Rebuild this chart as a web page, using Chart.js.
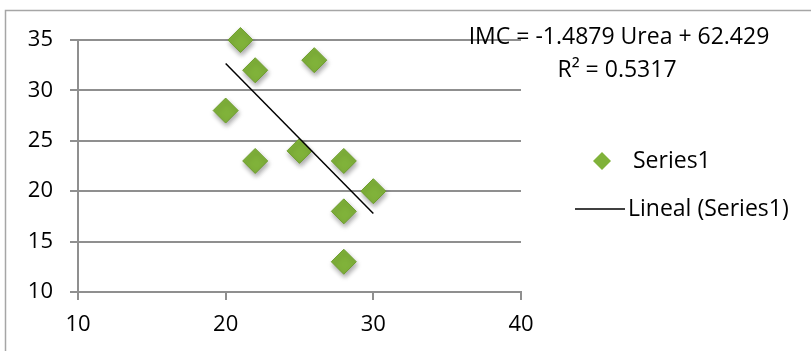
<!DOCTYPE html>
<html>
<head>
<meta charset="utf-8">
<script src="https://cdn.jsdelivr.net/npm/chart.js@4/dist/chart.umd.min.js"></script>
<style>
    html, body { margin: 0; padding: 0; background: #fff; }
</style>
</head>
<body>
<canvas id="chart" width="811" height="351"></canvas>
<script>
// datos
const ureaValues = [21, 22, 26, 20, 22, 25, 28, 30, 28, 28];
const imcValues = [35, 32, 33, 28, 23, 24, 23, 20, 18, 13];
const trendX = [20, 30];
const trendY = [32.67, 17.79];
const xTicks = [10, 20, 30, 40];
const yTicks = [10, 15, 20, 25, 30, 35];
const seriesLabel = 'Series1';
const trendLabel = 'Lineal (Series1)';
const equationText = 'IMC = -1.4879 Urea + 62.429';
const r2Text = 'R² = 0.5317';

const FONT = "'Open Sans', sans-serif";
const gridColor = '#8f8f8f';
const markerColor = '#80b23a';
const markerBorder = '#6e9e2e';

// sombra de los rombos
const shadowPlugin = {
    id: 'markerShadow',
    beforeDatasetDraw(chart, args) {
        if (args.index !== 1) return;
        const ctx = chart.ctx;
        ctx.save();
        ctx.shadowColor = 'rgba(0,0,0,0.35)';
        ctx.shadowBlur = 5;
        ctx.shadowOffsetX = 1;
        ctx.shadowOffsetY = 3;
    },
    afterDatasetDraw(chart, args) {
        if (args.index !== 1) return;
        chart.ctx.restore();
    }
};

// borde, ecuación y leyenda
const decorPlugin = {
    id: 'decor',
    afterDraw(chart) {
        const ctx = chart.ctx;
        ctx.save();
        ctx.strokeStyle = '#a6a6a6';
        ctx.lineWidth = 1.5;
        ctx.strokeRect(5.5, 10.5, 1000, 1000);

        ctx.fillStyle = '#000';
        ctx.font = '23px ' + FONT;
        ctx.textAlign = 'center';
        ctx.textBaseline = 'middle';
        ctx.fillText(equationText, 619, 37);
        ctx.fillText(r2Text, 617, 70);

        // leyenda
        ctx.textAlign = 'left';
        ctx.fillStyle = markerColor;
        ctx.beginPath();
        ctx.moveTo(602 - 9, 161);
        ctx.lineTo(602, 161 - 9);
        ctx.lineTo(602 + 9, 161);
        ctx.lineTo(602, 161 + 9);
        ctx.closePath();
        ctx.fill();
        ctx.fillStyle = '#000';
        ctx.fillText(seriesLabel, 633, 161);

        ctx.strokeStyle = '#000';
        ctx.lineWidth = 1.5;
        ctx.beginPath();
        ctx.moveTo(575, 209);
        ctx.lineTo(625, 209);
        ctx.stroke();
        ctx.fillText(trendLabel, 628, 209);
        ctx.restore();
    }
};

new Chart(document.getElementById('chart'), {
    type: 'scatter',
    data: {
        datasets: [
            {
                type: 'line',
                label: trendLabel,
                data: trendX.map((x, i) => ({ x: x, y: trendY[i] })),
                borderColor: '#000',
                borderWidth: 1.5,
                pointRadius: 0,
                fill: false
            },
            {
                label: seriesLabel,
                data: ureaValues.map((x, i) => ({ x: x, y: imcValues[i] })),
                pointStyle: 'rectRot',
                pointRadius: 12.5,
                pointHoverRadius: 12.5,
                backgroundColor: markerColor,
                borderColor: markerBorder,
                borderWidth: 1,
                clip: false
            }
        ]
    },
    options: {
        responsive: false,
        animation: false,
        layout: { padding: { top: 40, right: 290, left: 0, bottom: 0 } },
        plugins: {
            legend: { display: false },
            tooltip: { enabled: false }
        },
        scales: {
            x: {
                type: 'linear',
                min: xTicks[0],
                max: xTicks[xTicks.length - 1],
                afterBuildTicks: scale => { scale.ticks = xTicks.map(v => ({ value: v })); },
                afterFit: scale => { scale.height = 59; },
                grid: { drawOnChartArea: false, tickLength: 8, color: gridColor, lineWidth: 2 },
                border: { color: gridColor, width: 2 },
                ticks: { color: '#000', font: { family: FONT, size: 22 }, padding: 12, maxRotation: 0 }
            },
            y: {
                type: 'linear',
                min: yTicks[0],
                max: yTicks[yTicks.length - 1],
                afterBuildTicks: scale => { scale.ticks = yTicks.map(v => ({ value: v })); },
                afterFit: scale => { scale.width = 78; },
                grid: { tickLength: 8, color: gridColor, lineWidth: 2 },
                border: { color: gridColor, width: 2 },
                ticks: { color: '#000', font: { family: FONT, size: 22 }, padding: 17 }
            }
        }
    },
    plugins: [shadowPlugin, decorPlugin]
});
</script>
</body>
</html>
